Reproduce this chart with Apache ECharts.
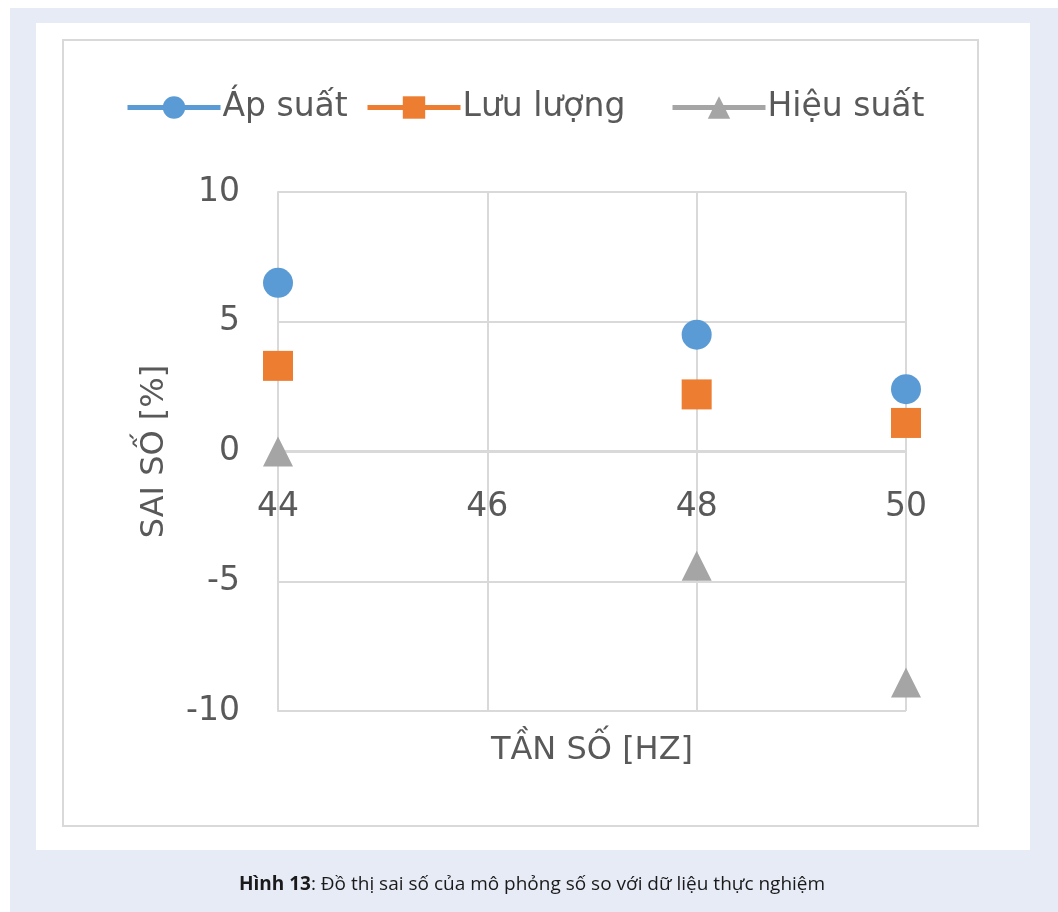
<!DOCTYPE html>
<html>
<head>
<meta charset="utf-8">
<script src="https://cdn.jsdelivr.net/npm/echarts@6/dist/echarts.min.js"></script>
<style>
html,body{margin:0;padding:0;background:#fff;}
#c{width:1058px;height:912px;}
</style>
</head>
<body>
<div id="c"></div>
<script>
const freq = [44, 48, 50];
const apSuat = [6.5, 4.5, 2.4];
const luuLuong = [3.3, 2.2, 1.1];
const hieuSuat = [0.0, -4.4, -8.9];
const seriesNames = ['Áp suất', 'Lưu lượng', 'Hiệu suất'];
const xTicks = [44, 46, 48, 50];
const yTicks = [-10, -5, 0, 5, 10];
const caption = ['Hình 13', ': Đồ thị sai số của mô phỏng số so với dữ liệu thực nghiệm'];

const pair = (ys) => freq.map((x, i) => [x, ys[i]]);
const txt = '#595959';
const font = 'DejaVu Sans';
const grey = '#d9d9d9';

const chart = echarts.init(document.getElementById('c'), null, {renderer: 'canvas'});
const mk = (name, ys, color, symbol) => ({
  name, type: 'line', data: pair(ys), symbol, symbolSize: 30,
  itemStyle: {color, opacity: 1},
  lineStyle: {width: 0, opacity: 0, color},
  z: 5
});
const legendAt = (name, left) => ({
  left, top: 91, padding: 0,
  data: [name],
  itemWidth: 93, itemHeight: 28, itemGap: 0,
  textStyle: {color: txt, fontSize: 33, fontFamily: font, padding: [0, 0, 0, -3]},
  lineStyle: {width: 5, opacity: 1}
});
chart.setOption({
  backgroundColor: '#ffffff',
  animation: false,
  textStyle: {fontFamily: font},
  graphic: [
    {type: 'rect', z: -10, silent: true, shape: {x: 10, y: 8, width: 1048, height: 904}, style: {fill: '#e7ebf6'}},
    {type: 'rect', z: -9, silent: true, shape: {x: 36, y: 23, width: 994, height: 827}, style: {fill: '#ffffff'}},
    {type: 'rect', z: -8, silent: true, shape: {x: 63, y: 40, width: 915, height: 786}, style: {fill: 'none', stroke: grey, lineWidth: 2}},
    {type: 'text', z: 10, x: 532, y: 885, style: {
      text: '{b|' + caption[0] + '}{n|' + caption[1] + '}',
      align: 'center', verticalAlign: 'middle',
      rich: {
        b: {fontFamily: 'Open Sans', fontWeight: 'bold', fontSize: 19, fill: '#1a1a1a'},
        n: {fontFamily: 'Open Sans', fontSize: 19, fill: '#1a1a1a'}
      }
    }}
  ],
  legend: [
    legendAt(seriesNames[0], 125),
    legendAt(seriesNames[1], 365),
    legendAt(seriesNames[2], 670)
  ],
  grid: {left: 278, right: 152, top: 192, bottom: 201, containLabel: false, outerBoundsMode: 'none'},
  xAxis: {
    type: 'value', min: xTicks[0], max: xTicks[xTicks.length - 1], interval: 2,
    position: 'bottom', offset: -260,
    name: 'TẦN SỐ [HZ]', nameLocation: 'middle', nameGap: 284,
    nameTextStyle: {color: txt, fontSize: 32, fontFamily: font},
    axisLine: {show: true, onZero: false, lineStyle: {color: grey, width: 2}},
    axisTick: {show: false},
    axisLabel: {color: txt, fontSize: 33, margin: 40, fontFamily: font},
    splitLine: {show: true, lineStyle: {color: grey, width: 2}}
  },
  yAxis: {
    type: 'value', min: yTicks[0], max: yTicks[yTicks.length - 1], interval: 5,
    name: 'SAI SỐ [%]', nameLocation: 'middle', nameGap: 107,
    nameTextStyle: {color: txt, fontSize: 32, fontFamily: font},
    axisLine: {show: true, onZero: false, lineStyle: {color: grey, width: 2}},
    axisTick: {show: false},
    axisLabel: {color: txt, fontSize: 33, margin: 38, fontFamily: font},
    splitLine: {show: true, lineStyle: {color: grey, width: 2}}
  },
  series: [
    mk(seriesNames[0], apSuat, '#5b9bd5', 'circle'),
    mk(seriesNames[1], luuLuong, '#ed7d31', 'rect'),
    mk(seriesNames[2], hieuSuat, '#a5a5a5', 'triangle')
  ]
});
</script>
</body>
</html>
